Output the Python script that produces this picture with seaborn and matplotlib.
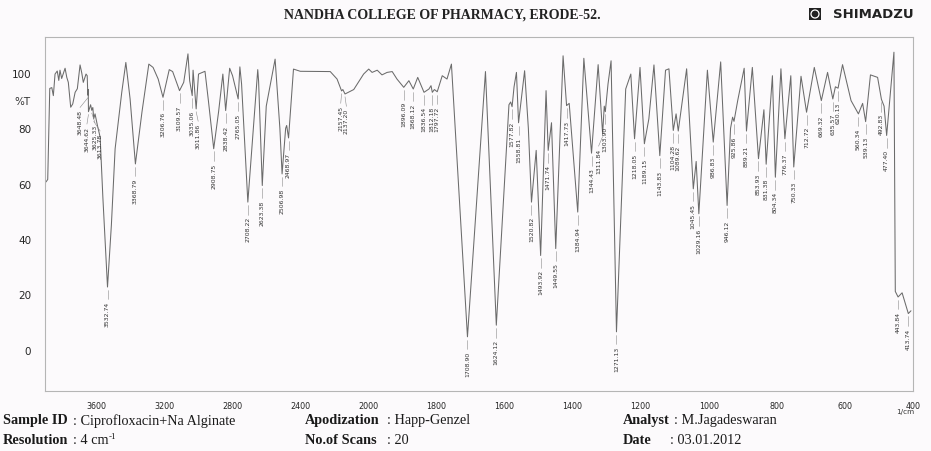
import numpy as np
import pandas as pd
import seaborn as sns
import matplotlib.pyplot as plt
import matplotlib.patches as mpatches
from matplotlib.ticker import MultipleLocator
from matplotlib import font_manager

# FTIR spectrum (wavenumber in 1/cm, %T)
wavenumber = [
    3894, 3884, 3872, 3860, 3851, 3841, 3828, 3819, 3812, 3802,
    3782, 3772, 3763, 3749, 3737, 3723, 3710, 3694, 3684, 3675,
    3659, 3652, 3648.48, 3646, 3644.62, 3632, 3625.33, 3619, 3613.78, 3606,
    3592, 3576, 3560, 3532.74, 3510, 3488, 3449, 3425, 3400, 3368.79,
    3330, 3290, 3265, 3235, 3206.76, 3170, 3150, 3109.57, 3085, 3060,
    3050, 3035.06, 3030, 3011.86, 2998, 2960, 2940, 2908.75, 2880, 2855,
    2838.42, 2815, 2798, 2765.05, 2755, 2745, 2708.22, 2650, 2645, 2623.38,
    2600, 2548, 2520, 2506.98, 2486, 2480, 2468.97, 2440, 2400, 2224,
    2184, 2157.45, 2150, 2137.20, 2086, 2028, 1999, 1989, 1974, 1960,
    1945, 1930, 1916, 1896.09, 1881, 1868.12, 1855, 1836.54, 1822, 1816,
    1812.18, 1806, 1797.72, 1783, 1769, 1756, 1708.90, 1656, 1624.12, 1587,
    1582, 1577.82, 1572, 1565, 1558.81, 1541, 1530, 1520.82, 1507, 1493.92,
    1478, 1471.74, 1462, 1449.55, 1428, 1417.73, 1410, 1384.94, 1367, 1344.43,
    1325, 1311.84, 1307, 1303.90, 1296, 1287, 1271.13, 1244, 1229, 1218.05,
    1202, 1189.15, 1176, 1161, 1143.83, 1127, 1117, 1104.28, 1096, 1089.62,
    1065, 1045.45, 1037, 1029.16, 1004, 986.83, 965, 946.12, 936, 930,
    925.86, 915, 896, 889.21, 872, 853.93, 838, 831.38, 813, 804.34,
    788, 776.37, 759, 750.33, 729, 712.72, 690, 669.32, 651, 635.57,
    628, 620.13, 607, 582, 560.34, 548, 539.13, 525, 504, 492.83,
    485, 477.40, 456, 452, 443.84, 432, 413.74, 406,
]
transmittance = [
    60.6, 61.5, 94.4, 94.7, 91.8, 99.6, 100.7, 97.3, 101, 98,
    101.7, 98.4, 96.6, 87.6, 88.8, 93, 94.3, 102.9, 100, 96.6,
    99.6, 99, 92, 94, 86, 88.5, 86.5, 87.5, 83.5, 85.2,
    81, 76.8, 55, 22.6, 45, 72.6, 93, 103.8, 90.6, 67.1,
    86, 103.2, 102, 97.8, 91.2, 101.2, 100.5, 93.6, 96.6, 106.9,
    97.2, 91.8, 101, 87, 99.6, 100.6, 90, 72.6, 86, 99.6,
    86.4, 101.7, 99, 90.6, 102.2, 96, 53.3, 101.2, 97, 59.3,
    88, 105, 80, 63.5, 80, 81, 76.5, 101.4, 100.6, 100.5,
    97.8, 93.5, 94, 92.4, 94, 99.6, 101.4, 100.2, 101, 99.3,
    100.2, 100.5, 97.8, 94.8, 97.2, 94.2, 98.4, 93, 94.2, 95.4,
    93, 94, 93.2, 99, 97.8, 103.2, 4.6, 100.5, 8.8, 88.5,
    89.5, 87.8, 95, 100.2, 82, 100.8, 80, 53.3, 72, 34,
    93.6, 72, 82, 36.5, 106.2, 88.2, 89, 49.7, 105.3, 71,
    103, 78, 88, 86, 96, 104.4, 6.4, 94.2, 99.6, 76.2,
    102, 74.4, 83.4, 102.9, 70.1, 101, 101.5, 79.2, 85.2, 79,
    101.5, 58.1, 68, 49.1, 101, 75, 104, 52.1, 80, 84,
    82.5, 90, 101.7, 79, 102, 69, 86.7, 67, 99, 62.3,
    101.5, 76.2, 99, 66, 98.8, 85.8, 102, 90, 100.2, 90.6,
    95, 94.5, 103, 90, 85.2, 89, 82.4, 99.3, 98.4, 90.5,
    88, 77.4, 107.5, 21, 19, 20.5, 13, 14,
]

peak_labels = [
    "3648.48", "3644.62", "3625.33", "3613.78", "3532.74", "3368.79", "3206.76",
    "3109.57", "3035.06", "3011.86", "2908.75", "2838.42", "2765.05", "2708.22",
    "2623.38", "2506.98", "2468.97", "2157.45", "2137.20", "1896.09", "1868.12",
    "1836.54", "1812.18", "1797.72", "1708.90", "1624.12", "1577.82", "1558.81",
    "1520.82", "1493.92", "1471.74", "1449.55", "1417.73", "1384.94", "1344.43",
    "1311.84", "1303.90", "1271.13", "1218.05", "1189.15", "1143.83", "1104.28",
    "1089.62", "1045.45", "1029.16", "986.83", "946.12", "925.86", "889.21",
    "853.93", "831.38", "804.34", "776.37", "750.33", "712.72", "669.32",
    "635.57", "620.13", "560.34", "539.13", "492.83", "477.40", "443.84", "413.74",
]

xtick_values = [3600, 3200, 2800, 2400, 2000, 1800, 1600, 1400, 1200, 1000, 800, 600, 400]
ytick_values = [0, 20, 40, 60, 80, 100]

# crowded labels are pushed sideways, as on the print (1/cm)
label_shift = {"3648.48": 46, "3644.62": 9, "3625.33": -19, "3613.78": -38,
               "2157.45": 5, "2137.20": -8, "3011.86": -12, "1311.84": 12}

W, H = 931, 452
bg = "#fcfafc"


def fpos(x, y):
    return x / W, 1 - y / H


# 4000-2000 is printed at half the scale of 2000-400
def fwd(w):
    w = np.asarray(w, dtype=float)
    return np.where(w > 2000, 2000 + (w - 2000) / 2, w)


def inv(u):
    u = np.asarray(u, dtype=float)
    return np.where(u > 2000, 2000 + (u - 2000) * 2, u)


sns.set_style("white")
plt.rcParams["font.family"] = ["DejaVu Sans"]
installed = {f.name for f in font_manager.fontManager.ttflist}
narrow = "Liberation Sans Narrow" if "Liberation Sans Narrow" in installed else "DejaVu Sans"

fig = plt.figure(figsize=(W / 100, H / 100), dpi=100, facecolor=bg)
ax = fig.add_axes([45 / W, 1 - 392 / H, (913 - 45) / W, (392 - 38) / H], facecolor=bg)

df = pd.DataFrame({"wavenumber": wavenumber, "transmittance": transmittance})
sns.lineplot(data=df, x="wavenumber", y="transmittance", ax=ax, sort=False,
             estimator=None, color="#6b6b6b", linewidth=0.75)

ax.set_xscale("function", functions=(fwd, inv))
ax.set_xlim(3900, 400)
ax.set_ylim(-15, 113)

ax.set_xticks(xtick_values, labels=[str(v) for v in xtick_values])
minor_x = list(range(3840, 2000, -80)) + list(range(2000, 399, -40))
ax.set_xticks([m for m in minor_x if m not in xtick_values], minor=True)
ax.set_yticks(ytick_values, labels=[str(v) for v in ytick_values])
ax.yaxis.set_minor_locator(MultipleLocator(4))
ax.set_xlabel("")
ax.set_ylabel("")

ax.tick_params(axis="x", which="major", direction="out", length=5, width=0.6,
               color="#9a9a9a", labelsize=5.8, pad=2)
ax.tick_params(axis="x", which="minor", direction="out", length=3, width=0.5, color="#9a9a9a")
ax.tick_params(axis="y", which="major", direction="out", length=7, width=0.6,
               color="#9a9a9a", labelsize=7.5, pad=3)
ax.tick_params(axis="y", which="minor", direction="out", length=5, width=0.5, color="#9a9a9a")
for side in ["left", "right", "top", "bottom"]:
    ax.spines[side].set_color("#b5b5b5")
    ax.spines[side].set_linewidth(0.8)

# peak labels
wn_asc = np.array(wavenumber)[::-1]
t_asc = np.array(transmittance)[::-1]
for lab in peak_labels:
    w = float(lab)
    t = np.interp(w, wn_asc, t_asc)
    wx = w + label_shift.get(lab, 0)
    ax.plot([w, wx], [t - 1, t - 4.5], color="#8a8a8a", linewidth=0.4)
    ax.text(wx, t - 5, lab, rotation=90, ha="center", va="top",
            fontsize=4.4, family=narrow, color="#333333")

fig.text(*fpos(22, 102), "%T", ha="center", va="center", fontsize=7.5, color="#333333")
fig.text(*fpos(905, 412), "1/cm", ha="center", va="center", fontsize=5.2, color="#333333")

# header
fig.text(*fpos(442, 15), "NANDHA COLLEGE OF PHARMACY, ERODE-52.", ha="center", va="center",
         family="Liberation Serif", fontweight="bold", fontsize=10, color="#222222")
fig.text(*fpos(914, 15), "SHIMADZU", ha="right", va="center", fontweight="bold",
         fontsize=9.5, color="#222222")
fig.patches.append(mpatches.Rectangle(fpos(809, 21), 12 / W, 12 / H, transform=fig.transFigure,
                                      facecolor="#222222", edgecolor="none"))
fig.patches.append(mpatches.Ellipse(fpos(815, 15), 8 / W, 8 / H, transform=fig.transFigure,
                                    facecolor="none", edgecolor="white", linewidth=0.9))

# acquisition info
info = [
    (3, 421, "Sample ID", True), (73, 421, ": Ciprofloxacin+Na Alginate", False),
    (305, 421, "Apodization", True), (387, 421, ": Happ-Genzel", False),
    (623, 421, "Analyst", True), (674, 421, ": M.Jagadeswaran", False),
    (3, 441, "Resolution", True), (73, 441, ": 4 cm", False),
    (305, 441, "No.of Scans", True), (387, 441, ": 20", False),
    (623, 441, "Date", True), (670, 441, ": 03.01.2012", False),
]
for x, y, s, bold in info:
    fig.text(*fpos(x, y), s, ha="left", va="center", family="Liberation Serif",
             fontweight="bold" if bold else "normal", fontsize=10.3, color="#1a1a1a")
# the "-1" exponent of cm
fig.text(*fpos(109, 437), "-1", ha="left", va="center", family="Liberation Serif",
         fontsize=6.5, color="#1a1a1a")

fig.savefig("out.png", dpi=100, facecolor=bg)
